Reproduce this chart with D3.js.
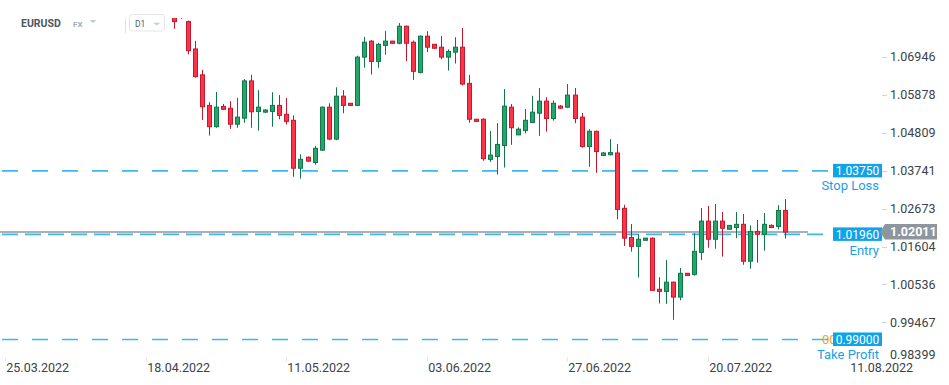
<!DOCTYPE html>
<html>
<head>
<meta charset="utf-8">
<script src="https://cdn.jsdelivr.net/npm/d3@7/dist/d3.min.js"></script>
<style>
html,body{margin:0;padding:0;background:#fff;}
svg{display:block;font-family:Roboto,"Open Sans",sans-serif;}
</style>
</head>
<body>
<svg id="chart" width="949" height="385"></svg>
<script>
// ---------- DATA ----------
const symbol = "EURUSD";
const market = "FX";
const interval = "D1";
const dates = [
 "2022-04-22","2022-04-24","2022-04-25","2022-04-26","2022-04-27","2022-04-28","2022-04-29",
 "2022-05-01","2022-05-02","2022-05-03","2022-05-04","2022-05-05","2022-05-06",
 "2022-05-08","2022-05-09","2022-05-10","2022-05-11","2022-05-12","2022-05-13",
 "2022-05-15","2022-05-16","2022-05-17","2022-05-18","2022-05-19","2022-05-20",
 "2022-05-22","2022-05-23","2022-05-24","2022-05-25","2022-05-26","2022-05-27",
 "2022-05-29","2022-05-30","2022-05-31","2022-06-01","2022-06-02","2022-06-03",
 "2022-06-05","2022-06-06","2022-06-07","2022-06-08","2022-06-09","2022-06-10",
 "2022-06-12","2022-06-13","2022-06-14","2022-06-15","2022-06-16","2022-06-17",
 "2022-06-19","2022-06-20","2022-06-21","2022-06-22","2022-06-23","2022-06-24",
 "2022-06-26","2022-06-27","2022-06-28","2022-06-29","2022-06-30","2022-07-01",
 "2022-07-03","2022-07-04","2022-07-05","2022-07-06","2022-07-07","2022-07-08",
 "2022-07-10","2022-07-11","2022-07-12","2022-07-13","2022-07-14","2022-07-15",
 "2022-07-17","2022-07-18","2022-07-19","2022-07-20","2022-07-21","2022-07-22",
 "2022-07-24","2022-07-25","2022-07-26","2022-07-27","2022-07-28","2022-07-29",
 "2022-07-31","2022-08-01","2022-08-02"
];
const open = [
 1.0836,1.0812,1.0794,1.0717,1.0644,1.0558,1.0498,
 1.0555,1.0550,1.0505,1.0522,1.0627,1.0541,
 1.0539,1.0541,1.0558,1.0533,1.0516,1.0381,
 1.0412,1.0397,1.0432,1.0553,1.0463,1.0584,
 1.0564,1.0558,1.0694,1.0739,1.0682,1.0727,
 1.0739,1.0733,1.0781,1.0736,1.0651,1.0753,
 1.0730,1.0722,1.0694,1.0708,1.0722,1.0620,
 1.0519,1.0519,1.0406,1.0414,1.0445,1.0553,
 1.0475,1.0487,1.0510,1.0536,1.0570,1.0521,
 1.0556,1.0553,1.0587,1.0525,1.0442,1.0485,
 1.0417,1.0419,1.0424,1.0268,1.0186,1.0161,
 1.0178,1.0184,1.0040,1.0034,1.0060,1.0018,
 1.0085,1.0082,1.0144,1.0232,1.0181,1.0232,
 1.0209,1.0214,1.0223,1.0119,1.0203,1.0195,
 1.0220,1.0217,1.0262
];
const high = [
 1.0850,1.0815,1.0797,1.0740,1.0658,1.0567,1.0596,
 1.0562,1.0570,1.0579,1.0632,1.0644,1.0601,
 1.0547,1.0595,1.0587,1.0579,1.0530,1.0420,
 1.0414,1.0444,1.0555,1.0564,1.0609,1.0601,
 1.0565,1.0698,1.0751,1.0742,1.0734,1.0768,
 1.0740,1.0790,1.0783,1.0741,1.0755,1.0767,
 1.0731,1.0753,1.0716,1.0750,1.0776,1.0644,
 1.0520,1.0522,1.0486,1.0508,1.0604,1.0562,
 1.0496,1.0548,1.0585,1.0607,1.0581,1.0572,
 1.0559,1.0618,1.0607,1.0537,1.0491,1.0487,
 1.0427,1.0463,1.0449,1.0278,1.0224,1.0195,
 1.0185,1.0186,1.0074,1.0123,1.0062,1.0100,
 1.0086,1.0198,1.0269,1.0275,1.0280,1.0258,
 1.0221,1.0258,1.0252,1.0220,1.0235,1.0255,
 1.0223,1.0277,1.0294
];
const low = [
 1.0774,1.0802,1.0702,1.0636,1.0517,1.0473,1.0495,
 1.0546,1.0492,1.0495,1.0509,1.0495,1.0487,
 1.0537,1.0498,1.0519,1.0504,1.0357,1.0352,
 1.0399,1.0391,1.0430,1.0460,1.0460,1.0536,
 1.0557,1.0556,1.0664,1.0645,1.0664,1.0701,
 1.0732,1.0730,1.0682,1.0630,1.0648,1.0708,
 1.0718,1.0688,1.0656,1.0676,1.0614,1.0509,
 1.0512,1.0402,1.0399,1.0363,1.0383,1.0447,
 1.0474,1.0479,1.0508,1.0472,1.0484,1.0515,
 1.0549,1.0551,1.0508,1.0439,1.0385,1.0368,
 1.0416,1.0417,1.0237,1.0162,1.0146,1.0073,
 1.0177,1.0035,1.0000,0.9999,0.9954,1.0009,
 1.0078,1.0078,1.0122,1.0157,1.0154,1.0132,
 1.0208,1.0184,1.0109,1.0098,1.0115,1.0149,
 1.0213,1.0209,1.0183
];
const close = [
 1.0794,1.0806,1.0712,1.0639,1.0554,1.0498,1.0553,
 1.0547,1.0505,1.0525,1.0627,1.0540,1.0553,
 1.0545,1.0558,1.0530,1.0513,1.0381,1.0406,
 1.0401,1.0437,1.0553,1.0463,1.0584,1.0558,
 1.0558,1.0694,1.0736,1.0682,1.0730,1.0739,
 1.0733,1.0781,1.0733,1.0654,1.0753,1.0722,
 1.0719,1.0694,1.0710,1.0722,1.0618,1.0519,
 1.0513,1.0408,1.0418,1.0448,1.0556,1.0495,
 1.0491,1.0516,1.0539,1.0570,1.0521,1.0564,
 1.0550,1.0587,1.0521,1.0442,1.0485,1.0428,
 1.0424,1.0425,1.0265,1.0184,1.0161,1.0181,
 1.0184,1.0037,1.0034,1.0060,1.0018,1.0085,
 1.0079,1.0147,1.0232,1.0181,1.0232,1.0212,
 1.0220,1.0223,1.0119,1.0203,1.0195,1.0223,
 1.0214,1.0262,1.02011
];
const yTickValues = [1.06946,1.05878,1.04809,1.03741,1.02673,1.01604,1.00536,0.99467,0.98399];
const xTickLabels = ["25.03.2022","18.04.2022","11.05.2022","03.06.2022","27.06.2022","20.07.2022","11.08.2022"];
const firstDate = "2022-03-25";
const currentPrice = 1.02011;
const stopLoss = 1.03750, entry = 1.01960, takeProfit = 0.99000;
const stopLossLabel = "Stop Loss", entryLabel = "Entry", takeProfitLabel = "Take Profit";

// ---------- HELPERS ----------
// slot index: every calendar day except Saturdays counts as one slot (Sunday candles exist)
function slotIndex(ds){
  const d0 = new Date(firstDate+"T00:00:00Z"), d = new Date(ds+"T00:00:00Z");
  let n = 0;
  for(let t = new Date(d0); t < d; t.setUTCDate(t.getUTCDate()+1)){
    const nx = new Date(t); nx.setUTCDate(nx.getUTCDate()+1);
    if(nx.getUTCDay() !== 6) n++;
  }
  return n;
}
const candles = dates.map((d,i)=>({date:d, slot:slotIndex(d), o:open[i], h:high[i], l:low[i], c:close[i]}));

const svg = d3.select("#chart");
const W = 949, H = 385;
svg.append("rect").attr("width",W).attr("height",H).attr("fill","#fff");

const x = d3.scaleLinear().domain([0,111]).range([5.4,785.3]);
const y = d3.scaleLinear().domain([1.06946,0.99467]).range([56.9,322.4]);

const defs = svg.append("defs");
defs.append("clipPath").attr("id","plotclip").append("rect")
  .attr("x",0).attr("y",18).attr("width",832).attr("height",342);

const plot = svg.append("g").attr("clip-path","url(#plotclip)");

// current price line (gray, solid)
plot.append("line").attr("x1",0).attr("x2",808)
  .attr("y1",y(currentPrice)).attr("y2",y(currentPrice))
  .attr("stroke","#8f989f").attr("stroke-width",1.5);

// order lines
const blue = "#1aa7ec";
function dashLine(v, dash, x0){
  plot.append("line").attr("x1",x0).attr("x2",829)
    .attr("y1",y(v)+0.5).attr("y2",y(v)+0.5)
    .attr("stroke","#3db6f2").attr("stroke-width",1.6)
    .attr("stroke-dasharray",dash);
}
dashLine(stopLoss,"16,14",2);
dashLine(entry,"16,7",2);
dashLine(takeProfit,"16,14",2);

// candles
const upFill="#25a76c", upStroke="#11764a", dnFill="#ff3347", dnStroke="#c11a2f";
const cg = plot.append("g");
candles.forEach(k=>{
  const cx = Math.round(x(k.slot))+0.5;
  const up = k.c >= k.o;
  const st = up?upStroke:dnStroke, fl = up?upFill:dnFill;
  cg.append("line").attr("x1",cx).attr("x2",cx)
    .attr("y1",y(k.h)).attr("y2",y(k.l)).attr("stroke",st).attr("stroke-width",1);
  const top = y(Math.max(k.o,k.c)), bot = y(Math.min(k.o,k.c));
  const hgt = Math.max(bot-top,1.5);
  cg.append("rect").attr("x",cx-2).attr("width",4)
    .attr("y",top).attr("height",hgt)
    .attr("fill",fl).attr("stroke",st).attr("stroke-width",1);
});

// ---------- Y AXIS ----------
const ya = svg.append("g");
yTickValues.forEach((v,i)=>{
  const yy = Math.min(y(v),354.3);
  if(i < yTickValues.length-1){
    ya.append("line").attr("x1",882).attr("x2",887).attr("y1",Math.round(yy)+0.5).attr("y2",Math.round(yy)+0.5)
      .attr("stroke","#d2d6d9").attr("stroke-width",1);
  }
  ya.append("text").attr("x",890).attr("y",yy).attr("dy","0.35em")
    .attr("font-size",12.5).attr("fill","#3b4248").text(v.toFixed(5));
});

// ---------- X AXIS ----------
const xa = svg.append("g");
xTickLabels.forEach((lab,i)=>{
  const xx = Math.round(x(i*20))+0.5;
  xa.append("line").attr("x1",xx).attr("x2",xx).attr("y1",357).attr("y2",362)
    .attr("stroke","#e6e8ea").attr("stroke-width",1);
  xa.append("text").attr("x",xx+0.8).attr("y",372)
    .attr("font-size",12.5).attr("fill","#3b4248").text(lab);
});

// ---------- ORDER LABELS ----------
const og = svg.append("g");
// orange marker partly hidden behind take profit box
og.append("text").attr("x",822).attr("y",y(takeProfit)).attr("dy","0.36em")
  .attr("font-size",13).attr("fill","#f5a425").text("00");
function orderBox(v, txt, lab, labDy){
  const yy = y(v);
  og.append("rect").attr("x",833).attr("y",yy-6.5).attr("width",49).attr("height",13.5)
    .attr("fill","#0fa4ea");
  og.append("text").attr("x",857.5).attr("y",yy+0.5).attr("dy","0.35em").attr("text-anchor","middle")
    .attr("font-size",12).attr("fill","#fff").text(txt);
  og.append("text").attr("x",879).attr("y",yy+labDy).attr("dy","0.35em").attr("text-anchor","end")
    .attr("font-size",13).attr("fill","#1b9fe6").text(lab);
}
orderBox(stopLoss, stopLoss.toFixed(5), stopLossLabel, 15);
orderBox(entry, entry.toFixed(5), entryLabel, 17);
orderBox(takeProfit, takeProfit.toFixed(5), takeProfitLabel, 15);

// current price tag
const cy = y(currentPrice);
og.append("path")
  .attr("d",`M880,${cy} L885,${cy-8} L937,${cy-8} L937,${cy+7.5} L885,${cy+7.5} Z`)
  .attr("fill","#8d969d");
og.append("text").attr("x",890).attr("y",cy).attr("dy","0.35em")
  .attr("font-size",12.5).attr("font-weight","bold").attr("fill","#fff").text(currentPrice.toFixed(5));

// ---------- HEADER ----------
const hd = svg.append("g");
hd.append("text").attr("x",21).attr("y",27.3).attr("font-size",10.5).attr("font-weight","bold")
  .attr("fill","#4b5661").text(symbol);
hd.append("text").attr("x",73).attr("y",27.3).attr("font-size",8).attr("font-weight","bold")
  .attr("fill","#a3adb5").text(market);
hd.append("path").attr("d","M89.5,20 L96.5,20 L93,23 Z").attr("fill","#c5cbd0");
hd.append("line").attr("x1",125.5).attr("x2",125.5).attr("y1",18).attr("y2",33)
  .attr("stroke","#ecdde1").attr("stroke-width",1);
hd.append("rect").attr("x",129.5).attr("y",14.5).attr("width",35).attr("height",16.5).attr("rx",3)
  .attr("fill","#fff").attr("stroke","#e3e6e9");
hd.append("text").attr("x",135).attr("y",26.7).attr("font-size",8.5)
  .attr("fill","#555d64").text(interval);
hd.append("path").attr("d","M153,22.7 L160.5,22.7 L156.8,25.5 Z").attr("fill","#c8ced3");
</script>
</body>
</html>
